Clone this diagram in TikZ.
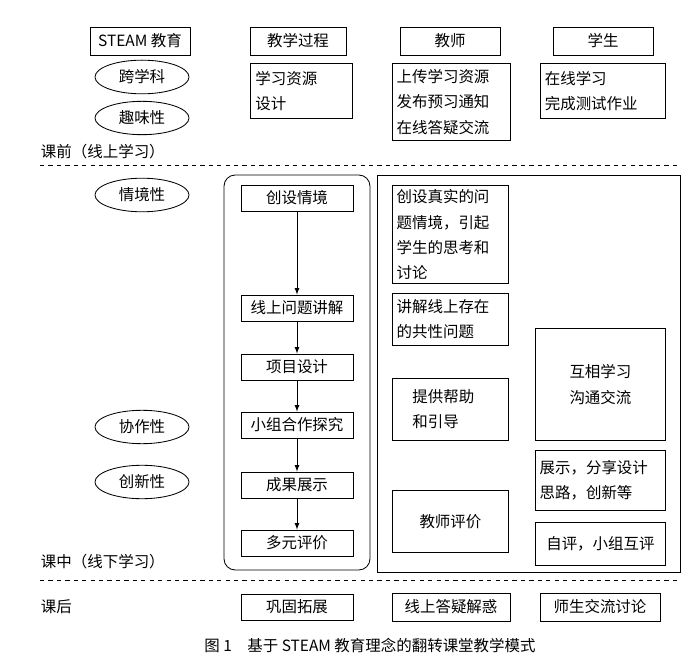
\documentclass[tikz,border=0pt]{standalone}
\usepackage{fontspec}
\newfontfamily\cjk{Noto Sans CJK SC}
\usetikzlibrary{positioning,shapes.geometric}

\begin{document}
\begin{tikzpicture}[x=0.025cm,y=-0.025cm,font=\cjk\fontsize{11}{18}\selectfont]
\tikzstyle{box}=[rectangle, draw=black, semithick, inner sep=3pt]
\tikzstyle{stepbox}=[box, minimum width=2.8cm, minimum height=0.65cm]
\tikzstyle{tag}=[ellipse, draw=black, semithick, minimum width=2.35cm, minimum height=0.75cm]
\tikzstyle{connect}=[-latex, semithick]
\tikzstyle{lbl}=[anchor=west]

\useasboundingbox (0,0) rectangle (700,663);

% 1. Headers
%%%%%%%%%%%
\node[box, minimum width=2.5cm, minimum height=0.7cm] (steam) at (140,41) {STEAM 教育};
\node[box, minimum width=2.4cm, minimum height=0.7cm] (proc) at (298,41) {教学过程};
\node[box, minimum width=2.5cm, minimum height=0.7cm] (teacher) at (450,41) {教师};
\node[box, minimum width=2.5cm, minimum height=0.7cm] (student) at (603,41) {学生};

% 2. Before class
%%%%%%%%%%%%%%%%
\node[tag] (kxk) at (142,77) {跨学科};
\node[tag] (qwx) at (142,118) {趣味性};
\node[box, anchor=north west, minimum width=2.55cm, minimum height=1.38cm, align=left, text width=2.3cm] (res) at (250,63) {学习资源\\设计};
\node[box, anchor=north west, minimum width=2.95cm, minimum height=1.93cm, align=left, text width=2.75cm] (upload) at (392,63) {上传学习资源\\发布预习通知\\在线答疑交流};
\node[box, anchor=north west, minimum width=3.12cm, minimum height=1.38cm, align=left, text width=2.9cm] (online) at (540,63) {在线学习\\完成测试作业};
\node[lbl] (pre) at (36,152) {课前（线上学习）};
\draw[dashed] (40,165) -- (680,165);

% 3. In class
%%%%%%%%%%%%
\node[tag] (qjx) at (142,195) {情境性};
\node[tag] (xzx) at (142,427) {协作性};
\node[tag] (cxx) at (142,482) {创新性};
\draw[semithick, rounded corners=8pt] (224,175) rectangle (370,570);
\draw[semithick] (377,175) rectangle (680,572);

\node[stepbox] (s1) at (297,198) {创设情境};
\node[stepbox] (s2) at (297,308) {线上问题讲解};
\node[stepbox] (s3) at (297,367) {项目设计};
\node[stepbox] (s4) at (297,425) {小组合作探究};
\node[stepbox] (s5) at (297,485) {成果展示};
\node[stepbox] (s6) at (297,543) {多元评价};
\foreach \a/\b in {s1/s2,s2/s3,s3/s4,s4/s5,s5/s6}
  \path (\a) edge [connect] (\b);

\node[box, anchor=north west, minimum width=2.9cm, minimum height=2.45cm, align=left, text width=2.7cm] (t1) at (392,185) {创设真实的问\\题情境，引起\\学生的思考和\\讨论};
\node[box, anchor=north west, minimum width=2.9cm, minimum height=1.3cm, align=left, text width=2.7cm] (t2) at (392,293) {讲解线上存在\\的共性问题};
\node[box, anchor=north west, minimum width=2.9cm, minimum height=1.55cm, align=left, text width=1.9cm] (t3) at (392,378) {提供帮助\\和引导};
\node[box, anchor=north west, minimum width=2.9cm, minimum height=1.55cm] (t4) at (392,490) {教师评价};
\node[box, anchor=north west, minimum width=3.25cm, minimum height=2.8cm, align=center] (u1) at (535,328) {互相学习\\沟通交流};
\node[box, anchor=north west, minimum width=3.25cm, minimum height=1.5cm, align=left, text width=3.05cm] (u2) at (535,450) {展示，分享设计\\思路，创新等};
\node[box, anchor=north west, minimum width=3.25cm, minimum height=1.08cm] (u3) at (535,522) {自评，小组互评};
\node[lbl] (mid) at (36,562) {课中（线下学习）};
\draw[dashed] (40,580) -- (680,580);

% 4. After class
%%%%%%%%%%%%%%%
\node[lbl] (post) at (36,607) {课后};
\node[stepbox] (a1) at (297,607) {巩固拓展};
\node[box, minimum width=2.95cm, minimum height=0.7cm] (a2) at (451,607) {线上答疑解惑};
\node[box, minimum width=3cm, minimum height=0.7cm] (a3) at (600,607) {师生交流讨论};

% 5. Caption
%%%%%%%%%%%
\node (cap) at (370,646) {图 1\quad 基于 STEAM 教育理念的翻转课堂教学模式};
\end{tikzpicture}
\end{document}
